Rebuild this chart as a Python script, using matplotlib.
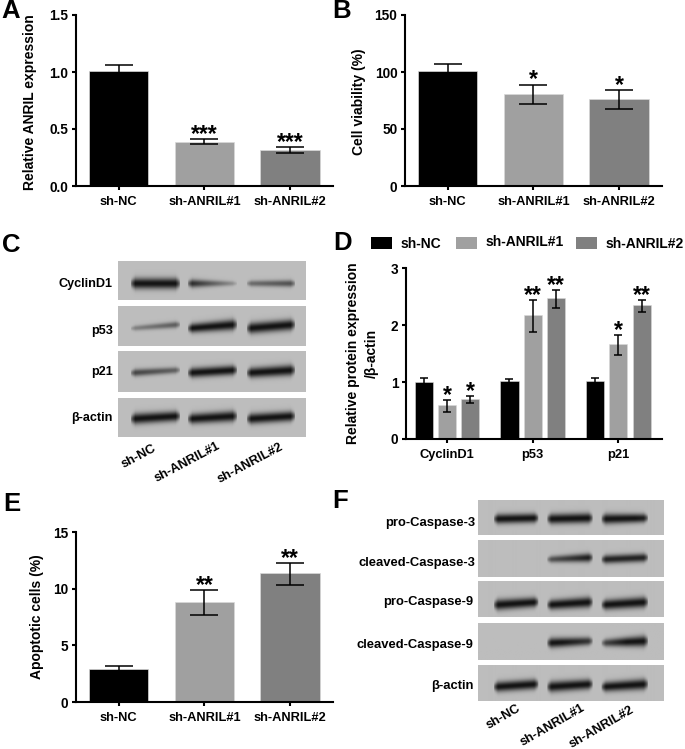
import numpy as np
import matplotlib
matplotlib.use('Agg')
import matplotlib.pyplot as plt
from matplotlib.patches import Rectangle

plt.rcParams['font.family'] = ['Liberation Sans', 'DejaVu Sans']
plt.rcParams['font.weight'] = 'bold'

W, H = 685, 749

groups = ['sh-NC', 'sh-ANRIL#1', 'sh-ANRIL#2']
colors = ['#000000', '#a0a0a0', '#808080']

# panel A
a_vals = [1.01, 0.39, 0.32]
a_low = [0.96, 0.365, 0.29]
a_high = [1.06, 0.415, 0.34]
a_stars = ['', '***', '***']

# panel B
b_vals = [101, 81, 76.5]
b_low = [95, 72, 67.5]
b_high = [107, 89, 84]
b_stars = ['', '*', '*']

# panel D
d_cats = ['CyclinD1', 'p53', 'p21']
d_vals = [[1.0, 1.02, 1.02], [0.6, 2.17, 1.67], [0.7, 2.47, 2.35]]
d_low = [[0.93, 0.98, 0.97], [0.47, 1.88, 1.47], [0.63, 2.3, 2.22]]
d_high = [[1.07, 1.05, 1.07], [0.68, 2.43, 1.83], [0.76, 2.62, 2.44]]
d_stars = [['', '', ''], ['*', '**', '*'], ['*', '**', '**']]

# panel E
e_vals = [2.95, 8.85, 11.35]
e_low = [2.75, 7.65, 10.3]
e_high = [3.15, 9.85, 12.25]
e_stars = ['', '**', '**']

# blots: band darkness at left and right end of each lane
c_rows = ['CyclinD1', 'p53', 'p21', 'β-actin']
c_dark = [[(1.0, 1.0), (0.7, 0.15), (0.35, 0.5)],
          [(0.25, 0.45), (0.75, 1.0), (1.0, 1.0)],
          [(0.55, 0.4), (0.85, 0.85), (0.9, 1.0)],
          [(1.0, 0.9), (0.9, 1.0), (0.95, 0.9)]]
f_rows = ['pro-Caspase-3', 'cleaved-Caspase-3', 'pro-Caspase-9', 'cleaved-Caspase-9', 'β-actin']
f_dark = [[(0.85, 0.8), (0.9, 0.9), (0.95, 0.7)],
          [(0, 0), (0.45, 0.75), (0.7, 0.7)],
          [(1.0, 0.85), (0.85, 1.0), (0.9, 1.0)],
          [(0, 0), (0.85, 0.6), (0.5, 1.0)],
          [(0.9, 0.9), (1.0, 0.9), (0.85, 1.0)]]

fig = plt.figure(figsize=(W / 100, H / 100), dpi=100)


def px_axes(l, t, r, b):
    return fig.add_axes([l / W, 1 - b / H, (r - l) / W, (b - t) / H])


def px_text(x, y, s, **kw):
    kw.setdefault('ha', 'center')
    kw.setdefault('va', 'center')
    fig.text(x / W, 1 - y / H, s, **kw)


def style_axes(ax, ylim, yticks, labels, xticks):
    ax.set_ylim(*ylim)
    ax.set_yticks(yticks)
    ax.set_xticks(xticks)
    ax.set_xticklabels(labels, fontsize=9.3)
    ax.tick_params(axis='y', labelsize=9.8, width=1.5, length=3, pad=2.5)
    ax.tick_params(axis='x', width=1.5, length=3, pad=4.5)
    ax.spines['top'].set_visible(False)
    ax.spines['right'].set_visible(False)
    ax.spines['left'].set_linewidth(1.5)
    ax.spines['bottom'].set_linewidth(1.5)
    ax.patch.set_alpha(0)


def simple_bars(box, vals, low, high, stars, ylim, yticks, star_off=3.3):
    ax = px_axes(*box)
    x = np.arange(3)
    yerr = [np.array(vals) - np.array(low), np.array(high) - np.array(vals)]
    ax.bar(x, vals, width=0.695, color=colors, edgecolor='#d8d8d8', linewidth=0.5)
    ax.errorbar(x, vals, yerr=yerr, fmt='none', ecolor='black', elinewidth=1.1,
                capsize=10, capthick=1.1)
    for i in x:
        if stars[i]:
            ax.annotate(stars[i], (i, high[i]), xytext=(0, star_off), textcoords='offset points',
                        ha='center', va='center', fontsize=16.5)
    ax.set_xlim(-0.497, 2.5)
    style_axes(ax, ylim, yticks, groups, x)
    return ax


simple_bars((76, 15, 333, 186), a_vals, a_low, a_high, a_stars, (0, 1.5), [0, 0.5, 1.0, 1.5])
simple_bars((405, 15, 662, 186), b_vals, b_low, b_high, b_stars, (0, 150), [0, 50, 100, 150])
ax_e = simple_bars((76, 532, 333, 702), e_vals, e_low, e_high, e_stars, (0, 15), [0, 5, 10, 15])

# panel D
ax = px_axes(406, 268, 662, 439)
xd = np.arange(3)
for j in range(3):
    pos = xd + (j - 1) * 0.272
    vals = np.array(d_vals[j])
    yerr = [vals - np.array(d_low[j]), np.array(d_high[j]) - vals]
    ax.bar(pos, vals, width=0.212, color=colors[j], edgecolor='#d8d8d8', linewidth=0.4)
    ax.errorbar(pos, vals, yerr=yerr, fmt='none', ecolor='black', elinewidth=1.1,
                capsize=3.2, capthick=1.1)
    for i in range(3):
        if d_stars[j][i]:
            ax.annotate(d_stars[j][i], (pos[i], d_high[j][i]), xytext=(0, 3.3), textcoords='offset points',
                        ha='center', va='center', fontsize=16.5)
ax.set_xlim(-0.48, 2.51)
style_axes(ax, (0, 3), [0, 1, 2, 3], d_cats, xd)

# legend of D
for x0, y0, lab, tx, ty, c in [(371, 237, groups[0], 401, 243.5, colors[0]),
                               (456, 237, groups[1], 486, 242.5, colors[1]),
                               (576, 237, groups[2], 606, 243.5, colors[2])]:
    fig.add_artist(Rectangle((x0 / W, 1 - (y0 + 12) / H), 21 / W, 12 / H, facecolor=c,
                             edgecolor='none', transform=fig.transFigure))
    px_text(tx, ty, lab, ha='left', fontsize=10)


def draw_blot(box, panels, lanes, dark, centers, tilts):
    # grey strips with dark smeared bands, built as one image per strip
    for p, (top, bot) in enumerate(panels):
        ax = px_axes(box[0], top, box[1], bot)
        ny = bot - top
        nx = box[1] - box[0]
        yy, xx = np.mgrid[0:ny, 0:nx]
        img = np.full((ny, nx), 0.74)
        ink = np.zeros((ny, nx))
        for k, (x0, x1) in enumerate(lanes):
            dl, dr = dark[p][k]
            if dl == 0 and dr == 0:
                continue
            t = (xx + box[0] - x0) / (x1 - x0)
            d = dl + (dr - dl) * np.clip(t, 0, 1)
            yc = centers[p] - top + tilts[p] * (t - 0.5)
            edge = np.clip(t / 0.1, 0, 1) * np.clip((1 - t) / 0.1, 0, 1)
            # bands narrow towards the lane ends
            sig = (1.2 + 2.6 * d) * (0.45 + 0.55 * np.sqrt(edge))
            ink += np.clip(1.3 * d, 0, 1) * np.sqrt(edge) * np.exp(-0.5 * ((yy - yc) / sig) ** 2)
        img = img - 0.66 * np.clip(ink, 0, 1)
        ax.imshow(img, cmap='gray', vmin=0, vmax=1, aspect='auto', interpolation='bilinear')
        ax.axis('off')


draw_blot((118, 306), [(261, 300), (306, 346), (351, 392), (398, 437)],
          [(130, 180), (187, 237), (246, 295)], c_dark,
          [283, 326, 371, 417], [0, -4, -3, -3])
draw_blot((478, 663), [(500, 535), (540, 577), (581, 617), (623, 660), (665, 701)],
          [(493, 538), (546, 592), (600, 647)], f_dark,
          [518, 558, 603, 642, 685], [-1, -2, -3, -2, -3])

for lab, y in zip(c_rows, [284, 331, 372, 418]):
    px_text(113, y, lab, ha='right', fontsize=9.1)
for lab, x, y in zip(groups, [139, 187, 250], [457, 462, 463]):
    px_text(x, y, lab, rotation=28, fontsize=9.3)
for lab, x, y in zip(f_rows, [475, 475, 473, 473, 474], [523, 563, 602, 645, 686]):
    px_text(x, y, lab, ha='right', fontsize=9.4)
for lab, x, y in zip(groups, [503, 552, 602], [717, 725, 727]):
    px_text(x, y, lab, rotation=30, fontsize=9.3)

# y titles
px_text(30, 102, 'Relative ANRIL expression', rotation=90, fontsize=10)
px_text(359, 102, 'Cell viability (%)', rotation=90, fontsize=10)
px_text(353, 353, 'Relative protein expression', rotation=90, fontsize=10)
px_text(372, 353, '/β-actin', rotation=90, fontsize=10)
px_text(37, 617, 'Apoptotic cells (%)', rotation=90, fontsize=10)

# panel letters
for s, x, y in [('A', 1, 11), ('B', 332, 11), ('C', 2, 245), ('D', 333, 243), ('E', 3, 504), ('F', 332, 501)]:
    px_text(x, y, s, ha='left', fontsize=18.5)

fig.savefig('out.png', dpi=100)
